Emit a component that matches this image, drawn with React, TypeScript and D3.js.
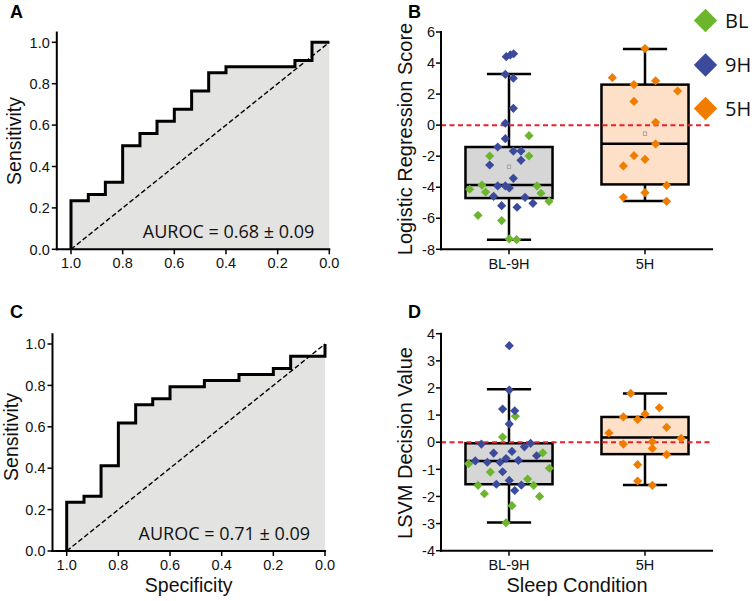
import React from 'react';
import * as d3 from 'd3';

// ---------- ROC data ----------
const rocTicks = [0, 0.2, 0.4, 0.6, 0.8, 1.0];
const rocA_spec = [1, 1, 0.933, 0.867, 0.8, 0.733, 0.667, 0.6, 0.533, 0.467, 0.4, 0.133, 0.067, 0];
const rocA_sens = [0, 0.235, 0.265, 0.324, 0.5, 0.559, 0.618, 0.676, 0.765, 0.853, 0.882, 0.912, 1.0, 1.0];
const rocC_spec = [1, 1, 0.933, 0.867, 0.8, 0.733, 0.667, 0.6, 0.467, 0.333, 0.2, 0.133, 0];
const rocC_sens = [0, 0.235, 0.265, 0.412, 0.618, 0.706, 0.735, 0.794, 0.824, 0.853, 0.882, 0.941, 1.0];
const aurocA = 'AUROC = 0.68 ± 0.09';
const aurocC = 'AUROC = 0.71 ± 0.09';

// ---------- Box plot data ----------
const categories = ['BL-9H', '5H'];
const seriesNames = ['BL', '9H', '5H'];
const seriesColors = ['#6cb52d', '#3c4a9c', '#f07d00'];
const boxFills = ['#d6d6d6', '#fde0c7'];

// box stats: [low whisker, q1, median, q3, high whisker, mean]
const boxB_stats = [
  [-7.38, -4.7, -3.86, -1.41, 3.29, -2.68],
  [-4.89, -3.82, -1.2, 2.61, 4.9, -0.55],
];
const boxD_stats = [
  [-2.96, -1.55, -0.69, -0.04, 1.95, NaN],
  [-1.58, -0.44, 0.17, 0.93, 1.8, NaN],
];
const yTicksB = [-8, -6, -4, -2, 0, 2, 4, 6];
const yTicksD = [-4, -3, -2, -1, 0, 1, 2, 3, 4];

// points: series, jitter (fraction of category step), value
const B_BL_jitter = [0.147, -0.142, 0.147, -0.289, -0.199, -0.172, 0.206, 0.235, 0.294, -0.228, -0.054, 0.002, 0.056];
const B_BL_values = [-0.68, -1.99, -1.99, -4.13, -3.86, -4.31, -3.92, -4.39, -4.91, -5.81, -6.15, -7.33, -7.38];
const B_9H_jitter = [-0.02, 0.01, 0.034, -0.027, 0.032, 0.032, -0.027, -0.027, -0.083, 0.032, 0.088, 0.088, -0.142, 0.032, -0.083, -0.027, 0.002, -0.113, 0.118, 0.176, -0.054, 0.059];
const B_9H_values = [4.41, 4.52, 4.6, 3.27, 3.02, 1.08, 0.12, -0.87, -1.41, -1.67, -1.67, -2.27, -2.57, -3.43, -3.92, -3.92, -4.05, -4.59, -4.65, -5.04, -5.19, -5.29];
const B_5H_jitter = [0, -0.24, -0.081, 0.078, 0.24, -0.081, 0.078, 0.078, -0.081, 0, -0.159, 0.159, 0, -0.159, 0.159];
const B_5H_values = [4.93, 3.06, 2.61, 2.86, 2.2, 1.53, 0.18, -1.21, -1.97, -2.2, -2.63, -3.88, -4.35, -4.65, -4.91];

const D_BL_jitter = [0.047, -0.047, 0.248, -0.297, 0.297, -0.137, 0.137, -0.228, 0.181, -0.181, 0.225, 0.022, -0.022];
const D_BL_values = [0.96, 0.19, -0.39, -0.79, -0.96, -1.1, -1.36, -1.59, -1.59, -1.9, -2.0, -2.34, -2.97];
const D_9H_jitter = [0.002, 0.002, -0.047, 0.042, 0.002, -0.203, 0.159, -0.248, -0.113, -0.159, -0.066, -0.022, 0.022, 0.069, 0.113, 0.203, -0.047, -0.093, 0.002, 0.091, 0.042];
const D_9H_values = [3.56, 1.92, 1.22, 1.16, 0.67, -0.07, -0.04, -0.69, -0.4, -0.74, -0.74, -0.6, -0.34, -0.67, -0.17, -0.5, -1.09, -1.55, -1.41, -1.58, -1.78];
const D_5H_jitter = [-0.105, 0.105, 0, -0.159, -0.054, 0.159, -0.265, 0.265, 0.054, -0.159, 0.054, 0.159, -0.054, -0.054, 0.054];
const D_5H_values = [1.8, 1.27, 1.04, 0.93, 0.84, 0.55, 0.34, 0.14, 0.02, -0.07, -0.23, -0.46, -0.83, -1.43, -1.59];

const TICK_FONT = "'Liberation Sans', Arial, sans-serif";
const OPEN_FONT = "'Open Sans', 'Noto Sans', sans-serif";

type Pt = { cat: number; series: number; jitter: number; value: number };

function mk(cat: number, series: number, jit: number[], vals: number[]): Pt[] {
  return vals.map((v, i) => ({ cat, series, jitter: jit[i], value: v }));
}

const pointsB: Pt[] = [
  ...mk(0, 0, B_BL_jitter, B_BL_values),
  ...mk(0, 1, B_9H_jitter, B_9H_values),
  ...mk(1, 2, B_5H_jitter, B_5H_values),
];
const pointsD: Pt[] = [
  ...mk(0, 0, D_BL_jitter, D_BL_values),
  ...mk(0, 1, D_9H_jitter, D_9H_values),
  ...mk(1, 2, D_5H_jitter, D_5H_values),
];

function diamond(cx: number, cy: number, r: number) {
  return `M${cx},${cy - r}L${cx + r},${cy}L${cx},${cy + r}L${cx - r},${cy}Z`;
}

type RocProps = {
  spec: number[];
  sens: number[];
  label: string;
  letter: string;
  x1: number;
  x0: number;
  y0: number;
  y1: number;
  auroc: string;
  showXTitle: boolean;
  titleX: number;
  titleY: number;
  letterY: number;
};

function RocPanel(p: RocProps) {
  const x = d3.scaleLinear().domain([1, 0]).range([p.x1, p.x0]);
  const y = d3.scaleLinear().domain([0, 1]).range([p.y0, p.y1]);
  const data = p.spec.map((s, i) => ({ s, v: p.sens[i] }));
  const line = d3.line<{ s: number; v: number }>().x(d => x(d.s)).y(d => y(d.v)).curve(d3.curveStepAfter);
  const area = d3.area<{ s: number; v: number }>().x(d => x(d.s)).y0(y(0)).y1(d => y(d.v)).curve(d3.curveStepAfter);
  const axX = x(1.055);
  const axTop = y(1.052);
  const fmt = d3.format('.1f');
  return (
    <g>
      <path d={area(data) || ''} fill="#e3e3e2" />
      <line x1={x(1)} y1={y(0)} x2={x(0)} y2={y(1)} stroke="#000" strokeWidth={1.4} strokeDasharray="5,2.5" />
      <path d={line(data) || ''} fill="none" stroke="#000" strokeWidth={3} strokeLinejoin="miter" />
      <line x1={axX} y1={axTop} x2={axX} y2={y(0) + 1} stroke="#000" strokeWidth={2} />
      <line x1={axX - 1} y1={y(0)} x2={x(0) + 1} y2={y(0)} stroke="#000" strokeWidth={2} />
      {rocTicks.map(t => (
        <g key={'y' + t}>
          <line x1={axX - 5} x2={axX} y1={y(t)} y2={y(t)} stroke="#000" strokeWidth={1.5} />
          <text x={axX - 7} y={y(t)} dy="0.36em" textAnchor="end" fontFamily={TICK_FONT} fontSize={14.5} fill="#111">
            {fmt(t)}
          </text>
        </g>
      ))}
      {rocTicks.map(t => (
        <g key={'x' + t}>
          <line x1={x(t)} x2={x(t)} y1={y(0)} y2={y(0) + 5} stroke="#000" strokeWidth={1.5} />
          <text x={x(t)} y={y(0) + 19} textAnchor="middle" fontFamily={TICK_FONT} fontSize={14.5} fill="#111">
            {fmt(t)}
          </text>
        </g>
      ))}
      <text x={x(0) - 15} y={y(0) - 11} textAnchor="end" fontFamily={OPEN_FONT} fontSize={18} fill="#111">
        {p.auroc}
      </text>
      <text
        transform={`translate(${p.titleX},${p.titleY}) rotate(-90)`}
        textAnchor="middle"
        fontFamily={TICK_FONT}
        fontSize={19.5}
        fill="#111"
      >
        {p.label}
      </text>
      {p.showXTitle && (
        <text x={(axX + x(0)) / 2} y={592} textAnchor="middle" fontFamily={TICK_FONT} fontSize={19.5} fill="#111">
          Specificity
        </text>
      )}
      <text x={10} y={p.letterY} fontFamily={TICK_FONT} fontWeight="bold" fontSize={18} fill="#000">
        {p.letter}
      </text>
    </g>
  );
}

type BoxProps = {
  yDomain: [number, number];
  yBottom: number;
  yTop: number;
  yTicks: number[];
  stats: number[][];
  points: Pt[];
  title: string;
  letter: string;
  letterY: number;
  titleY: number;
  showXTitle: boolean;
};

const BX_LEFT = 441;
const BX_RIGHT = 713;

function BoxPanel(p: BoxProps) {
  const xs = d3.scalePoint<string>().domain(categories).range([BX_LEFT, BX_RIGHT]).padding(0.5);
  const step = xs.step();
  const y = d3.scaleLinear().domain(p.yDomain).range([p.yBottom, p.yTop]);
  const boxW = step * 0.64;
  const capW = step * 0.325;
  return (
    <g>
      {p.stats.map((s, i) => {
        const cx = xs(categories[i]) as number;
        const [lo, q1, med, q3, hi, mean] = s;
        return (
          <g key={'box' + i}>
            <line x1={cx} x2={cx} y1={y(hi)} y2={y(q3)} stroke="#000" strokeWidth={2.5} />
            <line x1={cx} x2={cx} y1={y(q1)} y2={y(lo)} stroke="#000" strokeWidth={2.5} />
            <line x1={cx - capW / 2} x2={cx + capW / 2} y1={y(hi)} y2={y(hi)} stroke="#000" strokeWidth={2.5} />
            <line x1={cx - capW / 2} x2={cx + capW / 2} y1={y(lo)} y2={y(lo)} stroke="#000" strokeWidth={2.5} />
            <rect x={cx - boxW / 2} y={y(q3)} width={boxW} height={y(q1) - y(q3)} fill={boxFills[i]} stroke="#000" strokeWidth={2.5} />
            <line x1={cx - boxW / 2} x2={cx + boxW / 2} y1={y(med)} y2={y(med)} stroke="#000" strokeWidth={2.5} />
            {!isNaN(mean) && (
              <rect x={cx - 1.7} y={y(mean) - 1.7} width={3.4} height={3.4} fill="none" stroke="#999" strokeWidth={0.8} />
            )}
          </g>
        );
      })}
      <line x1={BX_LEFT} x2={BX_RIGHT} y1={y(0)} y2={y(0)} stroke="#e8202a" strokeWidth={2} strokeDasharray="5,3.5" />
      {p.points.map((pt, i) => {
        const cx = (xs(categories[pt.cat]) as number) + pt.jitter * step;
        return <path key={'pt' + i} d={diamond(cx, y(pt.value), 4.6)} fill={seriesColors[pt.series]} />;
      })}
      <line x1={BX_LEFT} x2={BX_LEFT} y1={p.yTop - 1} y2={p.yBottom + 1} stroke="#000" strokeWidth={2} />
      <line x1={BX_LEFT - 1} x2={BX_RIGHT} y1={p.yBottom} y2={p.yBottom} stroke="#000" strokeWidth={2} />
      {p.yTicks.map(t => (
        <g key={'yt' + t}>
          <line x1={BX_LEFT - 5} x2={BX_LEFT} y1={y(t)} y2={y(t)} stroke="#000" strokeWidth={1.5} />
          <text x={BX_LEFT - 6} y={y(t)} dy="0.36em" textAnchor="end" fontFamily={TICK_FONT} fontSize={14.5} fill="#111">
            {t}
          </text>
        </g>
      ))}
      {categories.map(c => (
        <g key={'xt' + c}>
          <line x1={xs(c)} x2={xs(c)} y1={p.yBottom} y2={p.yBottom + 5} stroke="#000" strokeWidth={1.5} />
          <text x={xs(c)} y={p.yBottom + 19.5} textAnchor="middle" fontFamily={TICK_FONT} fontSize={14.5} fill="#111">
            {c}
          </text>
        </g>
      ))}
      <text
        transform={`translate(412,${p.titleY}) rotate(-90)`}
        textAnchor="middle"
        fontFamily={TICK_FONT}
        fontSize={20}
        fill="#111"
      >
        {p.title}
      </text>
      {p.showXTitle && (
        <text x={(BX_LEFT + BX_RIGHT) / 2} y={592} textAnchor="middle" fontFamily={TICK_FONT} fontSize={20} fill="#111">
          Sleep Condition
        </text>
      )}
      <text x={408} y={p.letterY} fontFamily={TICK_FONT} fontWeight="bold" fontSize={18} fill="#000">
        {p.letter}
      </text>
    </g>
  );
}

function Legend() {
  const ys = [20.5, 65, 108.5];
  return (
    <g>
      {seriesNames.map((n, i) => (
        <g key={n}>
          <path d={diamond(705.5, ys[i], 11.7)} fill={seriesColors[i]} />
          <text x={725} y={ys[i]} dy="0.36em" fontFamily={OPEN_FONT} fontSize={20} fill="#111">
            {n}
          </text>
        </g>
      ))}
    </g>
  );
}

export default function App() {
  return (
    <svg width={755} height={601} style={{ position: 'absolute', left: 0, top: 0, background: '#fff' }}>
      <rect width={755} height={601} fill="#fff" />
      <RocPanel
        spec={rocA_spec}
        sens={rocA_sens}
        label="Sensitivity"
        letter="A"
        x1={71}
        x0={329.3}
        y0={249.3}
        y1={42.3}
        auroc={aurocA}
        showXTitle={false}
        titleX={21}
        titleY={141}
        letterY={18.3}
      />
      <RocPanel
        spec={rocC_spec}
        sens={rocC_sens}
        label="Sensitivity"
        letter="C"
        x1={66.7}
        x0={325}
        y0={551}
        y1={344}
        auroc={aurocC}
        showXTitle={true}
        titleX={18}
        titleY={437}
        letterY={318.3}
      />
      <BoxPanel
        yDomain={[-8, 6]}
        yBottom={249.3}
        yTop={32}
        yTicks={yTicksB}
        stats={boxB_stats}
        points={pointsB}
        title="Logistic Regression Score"
        letter="B"
        letterY={18.3}
        titleY={139}
        showXTitle={false}
      />
      <BoxPanel
        yDomain={[-4, 4]}
        yBottom={550.7}
        yTop={333.7}
        yTicks={yTicksD}
        stats={boxD_stats}
        points={pointsD}
        title="LSVM Decision Value"
        letter="D"
        letterY={318.3}
        titleY={443}
        showXTitle={true}
      />
      <Legend />
    </svg>
  );
}
